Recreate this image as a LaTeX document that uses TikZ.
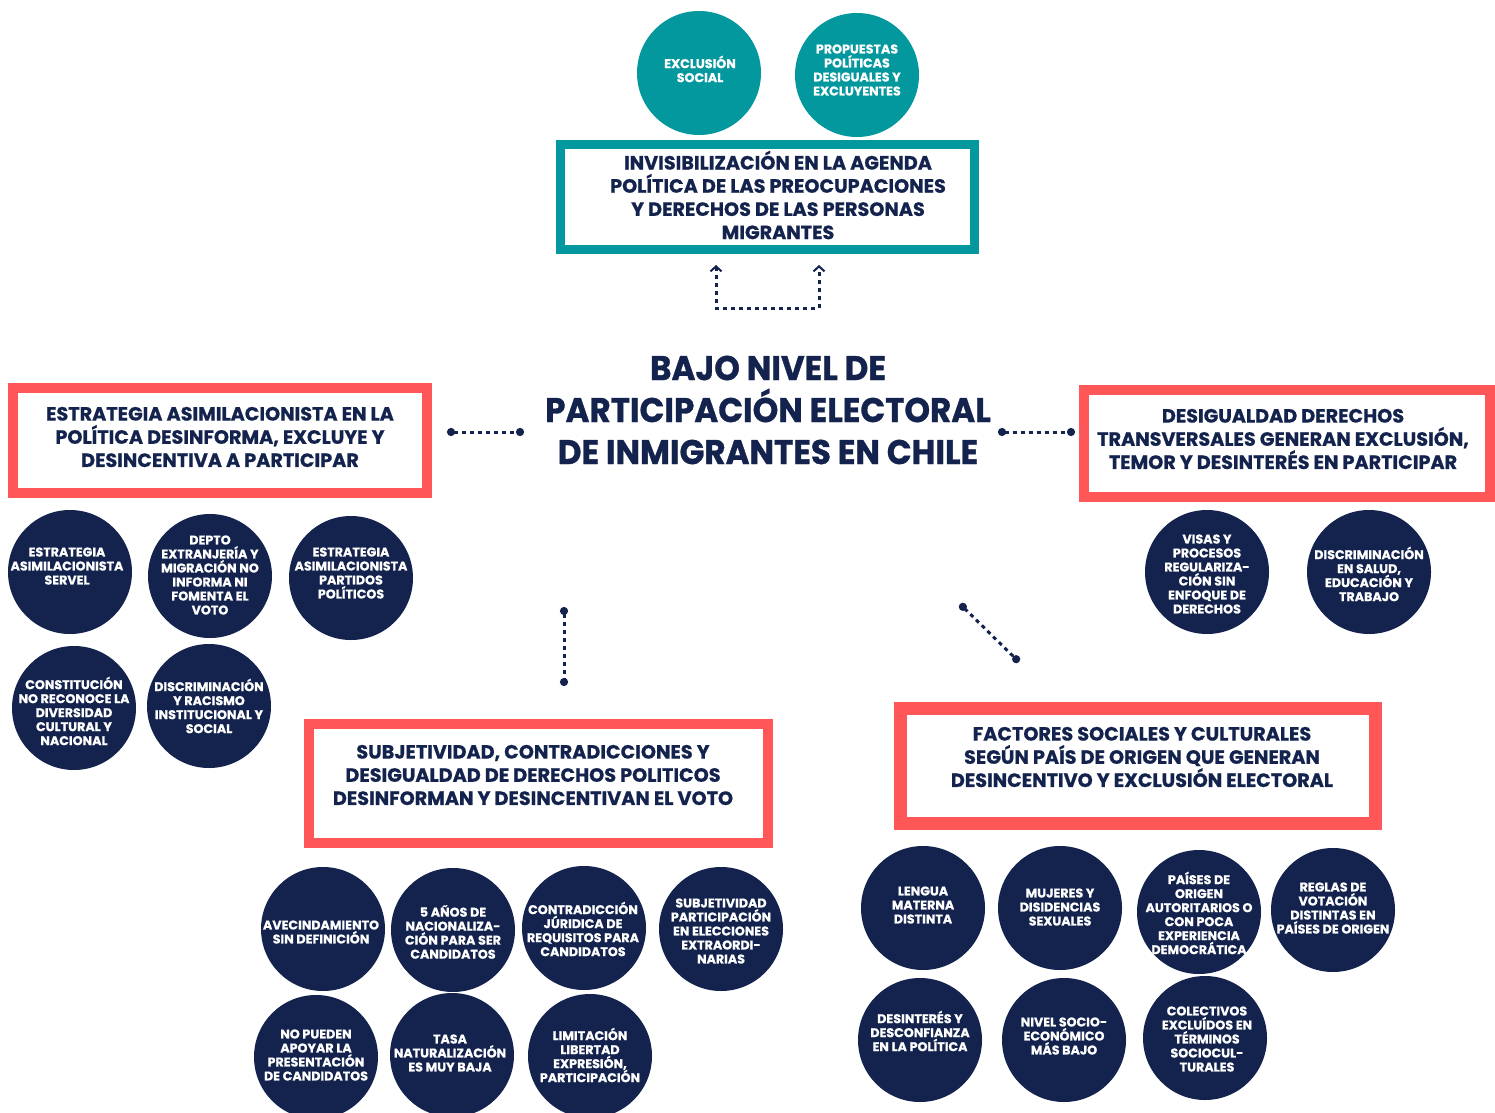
\documentclass[tikz,border=0pt]{standalone}
\usepackage{fontspec}
\setmainfont{Poppins}[BoldFeatures={FakeBold=0.7}]
\newfontfamily\titlefont{Poppins}[FakeStretch=0.95, BoldFeatures={FakeBold=0.9}]
\usetikzlibrary{arrows.meta}
\definecolor{cnavy}{HTML}{13234E}
\definecolor{cteal}{HTML}{03989E}
\definecolor{ccoral}{HTML}{FF5757}
\newdimen\px \px=0.75pt
\tikzset{
  bubble/.style={circle, inner sep=0pt, minimum size=124\px},
  navybub/.style={bubble, fill=cnavy},
  tealbub/.style={bubble, fill=cteal},
  btext/.style={text=white, align=center, inner sep=0pt, font=\bfseries\fontsize{9.5}{10.5}\selectfont},
  framebox/.style={rectangle, fill=white, inner sep=0pt},
  boxtext/.style={text=cnavy, align=center, inner sep=0pt, font=\bfseries\fontsize{14.4}{17.4}\selectfont},
  titletext/.style={text=cnavy, align=center, inner sep=0pt, font=\titlefont\bfseries\fontsize{25.7}{31.5}\selectfont},
  dotline/.style={draw=cnavy, line width=2.25pt, dash pattern=on 3pt off 3pt},
  dotends/.style={dotline, {Circle[length=6pt]}-{Circle[length=6pt]}},
  barbends/.style={dotline, {Straight Barb[length=3.75pt,width=8.25pt,line width=1.5pt]}-{Straight Barb[length=3.75pt,width=8.25pt,line width=1.5pt]}}
}
\newcommand\bub[5]{\node[#1] (#2) at (#3) {};\node[btext] (#2t) at (#4) {#5};}
\begin{document}
\begin{tikzpicture}[x=0.75pt,y=-0.75pt]
\fill[white] (0,0) rectangle (1495,1113);
\useasboundingbox (0,0) rectangle (1495,1113);

% top teal circles
\bub{tealbub}{excl}{699,73}{700,69}{EXCLUSIÓN\\SOCIAL}
\bub{tealbub}{prop}{857,75}{857,70}{PROPUESTAS\\POLÍTICAS\\DESIGUALES Y\\EXCLUYENTES}

% boxes
\node[framebox, draw=cteal, line width=9\px, minimum width=413.5\px, minimum height=105\px] (invis) at (767.25,197) {};
\node[boxtext] (invist) at (778,195) {INVISIBILIZACIÓN EN LA AGENDA\\POLÍTICA DE LAS PREOCUPACIONES\\Y DERECHOS DE LAS PERSONAS\\MIGRANTES};

\node[framebox, draw=ccoral, line width=10\px, minimum width=413.5\px, minimum height=105\px] (estr) at (219.75,440.5) {};
\node[boxtext] (estrt) at (220,437) {ESTRATEGIA ASIMILACIONISTA EN LA\\POLÍTICA DESINFORMA, EXCLUYE Y\\DESINCENTIVA A PARTICIPAR};

\node[framebox, draw=ccoral, line width=10\px, minimum width=406.5\px, minimum height=107\px] (desig) at (1286.75,443.5) {};
\node[boxtext] (desigt) at (1283,439) {DESIGUALDAD DERECHOS\\TRANSVERSALES GENERAN EXCLUSIÓN,\\TEMOR Y DESINTERÉS EN PARTICIPAR};

\node[framebox, draw=ccoral, line width=10\px, minimum width=459\px, minimum height=118.5\px] (subj) at (538.5,783.25) {};
\node[boxtext] (subjt) at (533,775) {SUBJETIVIDAD, CONTRADICCIONES Y\\DESIGUALDAD DE DERECHOS POLITICOS\\DESINFORMAN Y DESINCENTIVAN EL VOTO};

\node[framebox, draw=ccoral, line width=13\px, minimum width=475\px, minimum height=115\px] (fact) at (1138,766) {};
\node[boxtext] (factt) at (1142,757) {FACTORES SOCIALES Y CULTURALES\\SEGÚN PAÍS DE ORIGEN QUE GENERAN\\DESINCENTIVO Y EXCLUSIÓN ELECTORAL};

% title
\node[titletext] (title) at (768,410) {BAJO NIVEL DE\\PARTICIPACIÓN ELECTORAL\\DE INMIGRANTES EN CHILE};

% connectors
\coordinate (ta) at (716,265);
\coordinate (tc) at (716,308);
\coordinate (td) at (819,308);
\coordinate (tb) at (819,265);
\draw[barbends] (ta) -- (tc) -- (td) -- (tb);
\coordinate (l1) at (447,432);
\coordinate (l2) at (524,432);
\draw[dotends] (l1) -- (l2);
\coordinate (r1) at (998,432);
\coordinate (r2) at (1075,432);
\draw[dotends] (r1) -- (r2);
\coordinate (v1) at (564,607);
\coordinate (v2) at (564,686);
\draw[dotends] (v1) -- (v2);
\coordinate (d1) at (960,604);
\coordinate (d2) at (1019,662);
\draw[dotends] (d1) -- (d2);

% left group
\bub{navybub}{servel}{70,572}{67,566}{ESTRATEGIA\\ASIMILACIONISTA\\SERVEL}
\bub{navybub}{depto}{210,576}{210,575}{DEPTO\\EXTRANJERÍA Y\\MIGRACIÓN NO\\INFORMA NI\\FOMENTA EL\\VOTO}
\bub{navybub}{partidos}{351,578}{351,573}{ESTRATEGIA\\ASIMILACIONISTA\\PARTIDOS\\POLÍTICOS}
\bub{navybub}{constit}{74,708}{74,711}{CONSTITUCIÓN\\NO RECONOCE LA\\DIVERSIDAD\\CULTURAL Y\\NACIONAL}
\bub{navybub}{racismo}{209,706}{209,706}{DISCRIMINACIÓN\\Y RACISMO\\INSTITUCIONAL Y\\SOCIAL}

% right group
\bub{navybub}{visas}{1207,572}{1207,574}{VISAS Y\\PROCESOS\\REGULARIZA-\\CIÓN SIN\\ENFOQUE DE\\DERECHOS}
\bub{navybub}{salud}{1369,572}{1369,574}{DISCRIMINACIÓN\\EN SALUD,\\EDUCACIÓN Y\\TRABAJO}

% bottom-left group
\bub{navybub}{avec}{323,929}{321,932}{AVECINDAMIENTO\\SIN DEFINICIÓN}
\bub{navybub}{cinco}{453,930}{453,932}{5 AÑOS DE\\NACIONALIZA-\\CIÓN PARA SER\\CANDIDATOS}
\bub{navybub}{contra}{584,928}{583,929}{CONTRADICCIÓN\\JÚRIDICA DE\\REQUISITOS PARA\\CANDIDATOS}
\bub{navybub}{subpart}{721,929}{721,931}{SUBJETIVIDAD\\PARTICIPACIÓN\\EN ELECCIONES\\EXTRAORDI-\\NARIAS}
\bub{navybub}{nopueden}{316,1057}{316,1055}{NO PUEDEN\\APOYAR LA\\PRESENTACIÓN\\DE CANDIDATOS}
\bub{navybub}{tasa}{452,1055}{450,1053}{TASA\\NATURALIZACIÓN\\ES MUY BAJA}
\bub{navybub}{limit}{590,1056}{590,1055}{LIMITACIÓN\\LIBERTAD\\EXPRESIÓN,\\PARTICIPACIÓN}

% bottom-right group
\bub{navybub}{lengua}{923,908}{923,905}{LENGUA\\MATERNA\\DISTINTA}
\bub{navybub}{mujeres}{1060,908}{1060,907}{MUJERES Y\\DISIDENCIAS\\SEXUALES}
\bub{navybub}{paises}{1199,912}{1199,913}{PAÍSES DE\\ORIGEN\\AUTORITARIOS O\\CON POCA\\EXPERIENCIA\\DEMOCRÁTICA}
\bub{navybub}{reglas}{1333,910}{1333,908}{REGLAS DE\\VOTACIÓN\\DISTINTAS EN\\PAÍSES DE ORIGEN}
\bub{navybub}{desint}{920,1040}{920,1031}{DESINTERÉS Y\\DESCONFIANZA\\EN LA POLÍTICA}
\bub{navybub}{nivel}{1064,1040}{1064,1036}{NIVEL SOCIO-\\ECONÓMICO\\MÁS BAJO}
\bub{navybub}{colect}{1205,1038}{1207,1039}{COLECTIVOS\\EXCLUÍDOS  EN\\TÉRMINOS\\SOCIOCUL-\\TURALES}
\end{tikzpicture}
\end{document}
